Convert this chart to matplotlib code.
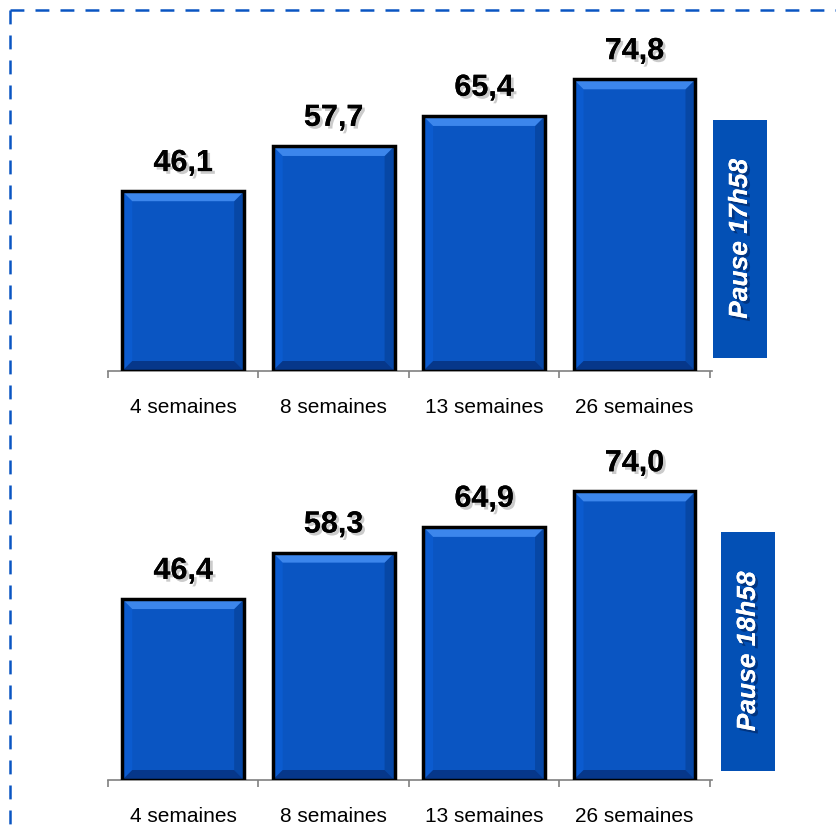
import matplotlib
matplotlib.use("Agg")
import matplotlib.pyplot as plt
from matplotlib.patches import Polygon, Rectangle
from matplotlib.lines import Line2D
import matplotlib.patheffects as pe

plt.rcParams['font.family'] = ['Liberation Sans', 'DejaVu Sans']
plt.rcParams['lines.scale_dashes'] = False

categories = ["4 semaines", "8 semaines", "13 semaines", "26 semaines"]
values_top = [46.1, 57.7, 65.4, 74.8]
values_bottom = [46.4, 58.3, 64.9, 74.0]
label_top = "Pause 17h58"
label_bottom = "Pause 18h58"

W, H = 837, 828
fig = plt.figure(figsize=(W / 100, H / 100), dpi=100)

BAR_MAIN = "#0A55C2"
BAR_LIGHT = "#3C86EC"
BAR_DARK = "#06378A"
BAR_SIDE_L = "#0B5BCF"
BAR_SIDE_R = "#0747A5"
BOX = "#0350B5"
YMAX = 80


def fmt(v):
    return f"{v:.1f}".replace(".", ",")


def draw_panel(rect, values):
    ax = fig.add_axes(rect)
    x = list(range(len(categories)))
    bars = ax.bar(x, values, width=0.81, color=BAR_MAIN, edgecolor="none", zorder=2)
    ax.set_xlim(-0.485, len(categories) - 0.485)
    ax.set_ylim(0, YMAX)
    # bevel
    ax_w_px = rect[2] * W
    ax_h_px = rect[3] * H
    dx = 10 / (ax_w_px / len(categories))
    dy = 10 / (ax_h_px / YMAX)
    for b in bars:
        x0 = b.get_x(); x1 = x0 + b.get_width()
        y0 = b.get_y(); y1 = y0 + b.get_height()
        top = [(x0, y1), (x1, y1), (x1 - dx, y1 - dy), (x0 + dx, y1 - dy)]
        bot = [(x0, y0), (x1, y0), (x1 - dx, y0 + dy), (x0 + dx, y0 + dy)]
        left = [(x0, y0), (x0 + dx, y0 + dy), (x0 + dx, y1 - dy), (x0, y1)]
        right = [(x1, y0), (x1 - dx, y0 + dy), (x1 - dx, y1 - dy), (x1, y1)]
        for pts, c in ((left, BAR_SIDE_L), (right, BAR_SIDE_R), (top, BAR_LIGHT), (bot, BAR_DARK)):
            ax.add_patch(Polygon(pts, closed=True, facecolor=c, edgecolor="none", zorder=3))
        ax.add_patch(Rectangle((x0, y0), x1 - x0, y1 - y0, facecolor="none",
                               edgecolor="black", linewidth=2.5, zorder=4))
    for xi, v in zip(x, values):
        ax.annotate(fmt(v), (xi, v), xytext=(0, 14.5), textcoords="offset points",
                    ha="center", va="baseline", fontsize=22, fontweight="bold",
                    color="black", zorder=5,
                    path_effects=[pe.withSimplePatchShadow(offset=(2, -2), alpha=0.3,
                                                           shadow_rgbFace="#555555"),
                                  pe.Normal()])
    for s in ("top", "right", "left"):
        ax.spines[s].set_visible(False)
    ax.spines["bottom"].set_color("#808080")
    ax.spines["bottom"].set_linewidth(1.2)
    ax.set_yticks([])
    ax.set_xticks([i - 0.5 for i in range(len(categories) + 1)])
    ax.set_xticklabels([])
    ax.tick_params(axis="x", which="major", direction="out", length=5, width=1.2, color="#808080")
    ax.set_xticks(x, minor=True)
    ax.set_xticklabels(categories, minor=True, fontsize=15, color="black")
    ax.tick_params(axis="x", which="minor", length=0, pad=19)
    ax.patch.set_alpha(0)
    return ax


def px_rect(left, top, right, bottom):
    return [left / W, 1 - bottom / H, (right - left) / W, (bottom - top) / H]


h_px = 3.9 * YMAX
draw_panel(px_rect(108, 372 - h_px, 712, 372), values_top)
draw_panel(px_rect(108, 781 - h_px, 712, 781), values_bottom)


def pause_box(left, top, right, bottom, text):
    r = Rectangle((left / W, 1 - bottom / H), (right - left) / W, (bottom - top) / H,
                  transform=fig.transFigure, facecolor=BOX, edgecolor="none")
    fig.patches.append(r)
    fig.text((left + right) / 2 / W, 1 - (top + bottom) / 2 / H, text, rotation=90,
             ha="center", va="center", color="white", fontsize=19, fontweight="bold",
             fontstyle="italic",
             path_effects=[pe.withSimplePatchShadow(offset=(2, -2), alpha=0.5,
                                                    shadow_rgbFace="#001a4d"),
                           pe.Normal()])


pause_box(713, 121, 767, 359, label_top)
pause_box(721, 533, 775, 772, label_bottom)

# dashed border (left and top)
dash = (10, 8)
fig.add_artist(Line2D([10.5 / W, 10.5 / W], [1 - 10.5 / H, 0], transform=fig.transFigure,
                      color="#0A55C2", linewidth=1.8, linestyle=(0, dash)))
fig.add_artist(Line2D([10.5 / W, 1], [1 - 10.5 / H, 1 - 10.5 / H], transform=fig.transFigure,
                      color="#0A55C2", linewidth=1.8, linestyle=(0, dash)))

fig.savefig("out.png", dpi=100)
